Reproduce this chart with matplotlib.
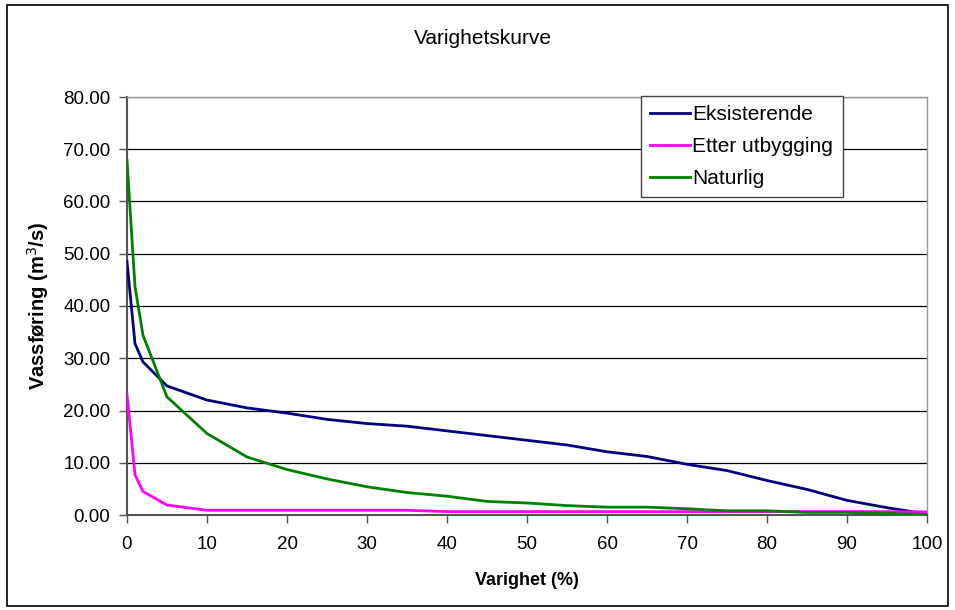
import matplotlib.pyplot as plt
from matplotlib.patches import Rectangle

plt.rcParams['font.family'] = ['Liberation Sans', 'DejaVu Sans']

# Data
varighet = [0, 1, 2, 5, 10, 15, 20, 25, 30, 35, 40, 45, 50, 55, 60, 65, 70, 75, 80, 85, 90, 95, 100]
eksisterende = [48.5, 32.8, 29.3, 24.7, 22.0, 20.5, 19.5, 18.3, 17.5, 17.0, 16.1, 15.2, 14.3, 13.4, 12.1,
                11.2, 9.7, 8.5, 6.6, 4.9, 2.8, 1.4, 0.2]
etter_utbygging = [23.1, 7.7, 4.5, 1.9, 0.9, 0.9, 0.9, 0.9, 0.9, 0.9, 0.65, 0.65, 0.65, 0.65, 0.65,
                   0.65, 0.65, 0.65, 0.65, 0.65, 0.65, 0.65, 0.6]
naturlig = [67.9, 43.7, 34.4, 22.6, 15.6, 11.1, 8.7, 6.9, 5.4, 4.3, 3.6, 2.6, 2.3, 1.8, 1.5,
            1.5, 1.2, 0.8, 0.8, 0.5, 0.5, 0.3, 0.1]

fig = plt.figure(figsize=(9.55, 6.1), dpi=100)
ax = fig.add_axes([127 / 955, 1 - 515 / 610, 800 / 955, 418 / 610])

# chart border
fig.patches.append(Rectangle((7 / 955, 4 / 610), 941 / 955, 601 / 610, transform=fig.transFigure,
                             fill=False, edgecolor='black', linewidth=1.2))

ax.plot(varighet, eksisterende, color='#000080', lw=2, label='Eksisterende', zorder=3)
ax.plot(varighet, etter_utbygging, color='#FF00FF', lw=2, label='Etter utbygging', zorder=3)
ax.plot(varighet, naturlig, color='#008000', lw=2, label='Naturlig', zorder=3)

ax.set_xlim(0, 100)
ax.set_ylim(0, 80)
ax.set_xticks(range(0, 101, 10))
ax.set_yticks(range(0, 81, 10))
ax.set_yticklabels([f'{v:.2f}' for v in range(0, 81, 10)])
ax.tick_params(labelsize=13.5, length=6, width=1, color='#555555', direction='out')
ax.tick_params(axis='x', pad=9)
ax.tick_params(axis='y', pad=6)
ax.grid(axis='y', color='black', lw=0.9)
ax.set_axisbelow(True)

for side in ['top', 'right']:
    ax.spines[side].set_color('#999999')
    ax.spines[side].set_linewidth(1)
for side in ['left', 'bottom']:
    ax.spines[side].set_color('#555555')
    ax.spines[side].set_linewidth(1.5)

ax.set_xlabel('Varighet (%)', fontsize=13, fontweight='bold', labelpad=14)
ax.set_ylabel('Vassføring (m$^3$/s)', fontsize=14.5, fontweight='bold', labelpad=9)
fig.text(483 / 955, 1 - 38 / 610, 'Varighetskurve', ha='center', va='center', fontsize=15)

leg = ax.legend(loc='upper left', bbox_to_anchor=(0.6425, 1.003), fontsize=15, frameon=True,
                fancybox=False, handlelength=1.9, handletextpad=0.12, labelspacing=0.62,
                borderpad=0.45, borderaxespad=0)
leg.get_frame().set_edgecolor('#444444')
leg.get_frame().set_linewidth(1)
leg.get_frame().set_alpha(1)

fig.savefig('out.png', dpi=100)
